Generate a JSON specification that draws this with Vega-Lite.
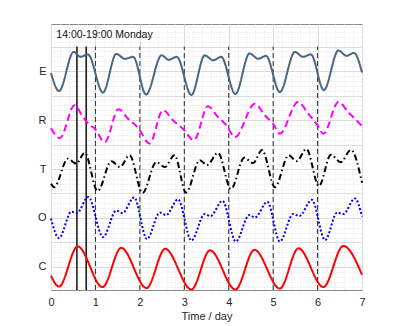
{
  "$schema": "https://vega.github.io/schema/vega-lite/v6.json",
  "width": 311,
  "height": 266,
  "autosize": {"type": "none"},
  "padding": {"left": 51, "top": 24, "right": 37, "bottom": 36},
  "background": "white",
  "config": {
    "view": {"stroke": "#8a8a8a", "strokeWidth": 1},
    "font": "Liberation Sans"
  },
  "datasets": {
    "curves": [
      {"s": "E", "t": 0.0, "v": 4.96}, {"s": "E", "t": 0.18, "v": 4.59}, {"s": "E", "t": 0.51, "v": 5.39}, {"s": "E", "t": 0.66, "v": 5.29}, {"s": "E", "t": 0.83, "v": 5.34},
      {"s": "E", "t": 1.17, "v": 4.56}, {"s": "E", "t": 1.47, "v": 5.35}, {"s": "E", "t": 1.66, "v": 5.25}, {"s": "E", "t": 1.85, "v": 5.29},
      {"s": "E", "t": 2.14, "v": 4.52}, {"s": "E", "t": 2.49, "v": 5.32}, {"s": "E", "t": 2.65, "v": 5.23}, {"s": "E", "t": 2.83, "v": 5.29},
      {"s": "E", "t": 3.16, "v": 4.51}, {"s": "E", "t": 3.46, "v": 5.32}, {"s": "E", "t": 3.65, "v": 5.22}, {"s": "E", "t": 3.83, "v": 5.29},
      {"s": "E", "t": 4.15, "v": 4.53}, {"s": "E", "t": 4.47, "v": 5.36}, {"s": "E", "t": 4.66, "v": 5.25}, {"s": "E", "t": 4.84, "v": 5.31},
      {"s": "E", "t": 5.15, "v": 4.57}, {"s": "E", "t": 5.49, "v": 5.39}, {"s": "E", "t": 5.67, "v": 5.29}, {"s": "E", "t": 5.85, "v": 5.34},
      {"s": "E", "t": 6.14, "v": 4.61}, {"s": "E", "t": 6.47, "v": 5.42}, {"s": "E", "t": 6.65, "v": 5.31}, {"s": "E", "t": 6.82, "v": 5.37},
      {"s": "E", "t": 7.0, "v": 4.97},

      {"s": "R", "t": 0.0, "v": 3.83}, {"s": "R", "t": 0.2, "v": 3.63}, {"s": "R", "t": 0.53, "v": 4.3}, {"s": "R", "t": 0.72, "v": 4.06}, {"s": "R", "t": 0.87, "v": 3.9}, {"s": "R", "t": 0.98, "v": 3.83},
      {"s": "R", "t": 1.21, "v": 3.55}, {"s": "R", "t": 1.52, "v": 4.22}, {"s": "R", "t": 1.73, "v": 4.03}, {"s": "R", "t": 1.96, "v": 3.84},
      {"s": "R", "t": 2.22, "v": 3.52}, {"s": "R", "t": 2.52, "v": 4.2}, {"s": "R", "t": 2.75, "v": 3.99}, {"s": "R", "t": 2.97, "v": 3.82},
      {"s": "R", "t": 3.22, "v": 3.59}, {"s": "R", "t": 3.53, "v": 4.28}, {"s": "R", "t": 3.76, "v": 4.06}, {"s": "R", "t": 3.95, "v": 3.89},
      {"s": "R", "t": 4.14, "v": 3.65}, {"s": "R", "t": 4.59, "v": 4.33}, {"s": "R", "t": 4.81, "v": 4.1}, {"s": "R", "t": 5.0, "v": 3.92},
      {"s": "R", "t": 5.15, "v": 3.72}, {"s": "R", "t": 5.56, "v": 4.37}, {"s": "R", "t": 5.79, "v": 4.13}, {"s": "R", "t": 5.98, "v": 3.92},
      {"s": "R", "t": 6.13, "v": 3.72}, {"s": "R", "t": 6.47, "v": 4.37}, {"s": "R", "t": 6.69, "v": 4.16}, {"s": "R", "t": 7.0, "v": 3.88},

      {"s": "T", "t": 0.0, "v": 2.7}, {"s": "T", "t": 0.07, "v": 2.63}, {"s": "T", "t": 0.38, "v": 3.21}, {"s": "T", "t": 0.57, "v": 3.11}, {"s": "T", "t": 0.76, "v": 3.33},
      {"s": "T", "t": 1.05, "v": 2.55}, {"s": "T", "t": 1.36, "v": 3.16}, {"s": "T", "t": 1.55, "v": 3.04}, {"s": "T", "t": 1.77, "v": 3.28},
      {"s": "T", "t": 2.06, "v": 2.51}, {"s": "T", "t": 2.37, "v": 3.14}, {"s": "T", "t": 2.56, "v": 3.04}, {"s": "T", "t": 2.78, "v": 3.28},
      {"s": "T", "t": 3.04, "v": 2.52}, {"s": "T", "t": 3.35, "v": 3.18}, {"s": "T", "t": 3.51, "v": 3.08}, {"s": "T", "t": 3.76, "v": 3.33},
      {"s": "T", "t": 4.05, "v": 2.59}, {"s": "T", "t": 4.35, "v": 3.23}, {"s": "T", "t": 4.55, "v": 3.12}, {"s": "T", "t": 4.75, "v": 3.39},
      {"s": "T", "t": 5.04, "v": 2.63}, {"s": "T", "t": 5.35, "v": 3.28}, {"s": "T", "t": 5.53, "v": 3.16}, {"s": "T", "t": 5.75, "v": 3.41},
      {"s": "T", "t": 6.03, "v": 2.65}, {"s": "T", "t": 6.3, "v": 3.29}, {"s": "T", "t": 6.52, "v": 3.14}, {"s": "T", "t": 6.75, "v": 3.39},
      {"s": "T", "t": 7.0, "v": 2.72},

      {"s": "O", "t": 0.0, "v": 1.99}, {"s": "O", "t": 0.18, "v": 1.59}, {"s": "O", "t": 0.46, "v": 2.13}, {"s": "O", "t": 0.58, "v": 2.1}, {"s": "O", "t": 0.84, "v": 2.43},
      {"s": "O", "t": 1.17, "v": 1.61}, {"s": "O", "t": 1.47, "v": 2.15}, {"s": "O", "t": 1.61, "v": 2.1}, {"s": "O", "t": 1.87, "v": 2.42},
      {"s": "O", "t": 2.16, "v": 1.57}, {"s": "O", "t": 2.45, "v": 2.11}, {"s": "O", "t": 2.59, "v": 2.06}, {"s": "O", "t": 2.86, "v": 2.38},
      {"s": "O", "t": 3.16, "v": 1.54}, {"s": "O", "t": 3.46, "v": 2.08}, {"s": "O", "t": 3.59, "v": 2.04}, {"s": "O", "t": 3.86, "v": 2.35},
      {"s": "O", "t": 4.16, "v": 1.52}, {"s": "O", "t": 4.46, "v": 2.06}, {"s": "O", "t": 4.59, "v": 2.01}, {"s": "O", "t": 4.87, "v": 2.33},
      {"s": "O", "t": 5.15, "v": 1.52}, {"s": "O", "t": 5.45, "v": 2.08}, {"s": "O", "t": 5.59, "v": 2.04}, {"s": "O", "t": 5.87, "v": 2.37},
      {"s": "O", "t": 6.17, "v": 1.55}, {"s": "O", "t": 6.44, "v": 2.11}, {"s": "O", "t": 6.58, "v": 2.08}, {"s": "O", "t": 6.84, "v": 2.4},
      {"s": "O", "t": 7.0, "v": 2.03},

      {"s": "C", "t": 0.0, "v": 0.82}, {"s": "C", "t": 0.18, "v": 0.6}, {"s": "C", "t": 0.6, "v": 1.42}, {"s": "C", "t": 1.16, "v": 0.59},
      {"s": "C", "t": 1.58, "v": 1.39}, {"s": "C", "t": 2.15, "v": 0.57}, {"s": "C", "t": 2.57, "v": 1.37}, {"s": "C", "t": 3.16, "v": 0.54},
      {"s": "C", "t": 3.58, "v": 1.34}, {"s": "C", "t": 4.15, "v": 0.54}, {"s": "C", "t": 4.58, "v": 1.35}, {"s": "C", "t": 5.15, "v": 0.56},
      {"s": "C", "t": 5.57, "v": 1.38}, {"s": "C", "t": 6.13, "v": 0.59}, {"s": "C", "t": 6.58, "v": 1.43}, {"s": "C", "t": 7.0, "v": 0.84}
    ],
    "dashed": [
      {"t": 1, "v": 0.53, "v2": 5.5}, {"t": 2, "v": 0.53, "v2": 5.5}, {"t": 3, "v": 0.53, "v2": 5.5},
      {"t": 4, "v": 0.53, "v2": 5.5}, {"t": 5, "v": 0.53, "v2": 5.5}, {"t": 6, "v": 0.53, "v2": 5.5}
    ],
    "solid": [
      {"t": 0.583, "v": 0.53, "v2": 5.5}, {"t": 0.792, "v": 0.53, "v2": 5.5}
    ],
    "label": [
      {"t": 0.12, "v": 5.745, "txt": "14:00-19:00 Monday"}
    ]
  },
  "encoding": {
    "x": {
      "field": "t", "type": "quantitative",
      "scale": {"domain": [0, 7], "nice": false, "zero": false},
      "axis": {
        "title": "Time / day",
        "values": [0,0.2,0.4,0.6,0.8,1,1.2,1.4,1.6,1.8,2,2.2,2.4,2.6,2.8,3,3.2,3.4,3.6,3.8,4,4.2,4.4,4.6,4.8,5,5.2,5.4,5.6,5.8,6,6.2,6.4,6.6,6.8,7],
        "labelExpr": "datum.value % 1 === 0 ? '' + datum.value : ''",
        "labelOverlap": false,
        "labelFlush": false,
        "ticks": false,
        "domain": false,
        "grid": true,
        "gridColor": {"condition": {"test": "datum.value % 1 === 0", "value": "#dcdcdc"}, "value": "#e4e4e4"},
        "gridDash": {"condition": {"test": "datum.value % 1 === 0", "value": []}, "value": [1, 2]},
        "gridWidth": 1,
        "labelFontSize": 11,
        "labelColor": "#262626",
        "labelPadding": 6,
        "titleFontSize": 11,
        "titleFontWeight": "normal",
        "titleColor": "#262626",
        "titlePadding": 3
      }
    },
    "y": {
      "field": "v", "type": "quantitative",
      "scale": {"domain": [0.53, 5.96], "nice": false, "zero": false},
      "axis": {
        "title": null,
        "values": [0.6,0.7,0.8,0.9,1,1.1,1.2,1.3,1.4,1.5,1.6,1.7,1.8,1.9,2,2.1,2.2,2.3,2.4,2.5,2.6,2.7,2.8,2.9,3,3.1,3.2,3.3,3.4,3.5,3.6,3.7,3.8,3.9,4,4.1,4.2,4.3,4.4,4.5,4.6,4.7,4.8,4.9,5,5.1,5.2,5.3,5.4,5.5,5.6,5.7,5.8,5.9],
        "labelExpr": "datum.value === 1 ? 'C' : datum.value === 2 ? 'O' : datum.value === 3 ? 'T' : datum.value === 4 ? 'R' : datum.value === 5 ? 'E' : ''",
        "labelOverlap": false,
        "labelFlush": false,
        "ticks": false,
        "domain": false,
        "grid": true,
        "gridColor": {"condition": {"test": "abs(datum.value * 2 - round(datum.value * 2)) < 0.000001", "value": "#dcdcdc"}, "value": "#e4e4e4"},
        "gridDash": {"condition": {"test": "abs(datum.value * 2 - round(datum.value * 2)) < 0.000001", "value": []}, "value": [1, 2]},
        "labelFontSize": 11,
        "labelColor": "#262626",
        "labelPadding": 5
      }
    }
  },
  "layer": [
    {
      "data": {"name": "dashed"},
      "mark": {"type": "rule", "color": "#2b2b2b", "strokeWidth": 1, "strokeDash": [5, 3]},
      "encoding": {"y2": {"field": "v2"}}
    },
    {
      "data": {"name": "solid"},
      "mark": {"type": "rule", "color": "#111111", "strokeWidth": 1.5},
      "encoding": {"y2": {"field": "v2"}}
    },
    {
      "data": {"name": "curves"},
      "mark": {"type": "line", "interpolate": "monotone", "strokeWidth": 2},
      "encoding": {
        "color": {
          "field": "s", "type": "nominal", "legend": null,
          "scale": {"domain": ["E", "R", "T", "O", "C"], "range": ["#4a6683", "#ff00ff", "#000000", "#0000ff", "#ff0000"]}
        },
        "strokeDash": {
          "field": "s", "type": "nominal", "legend": null,
          "scale": {"domain": ["E", "R", "T", "O", "C"], "range": [[1, 0], [7, 4], [6, 3, 1.5, 3], [2, 2], [1, 0]]}
        },
        "detail": {"field": "s"}
      }
    },
    {
      "data": {"name": "label"},
      "mark": {"type": "text", "align": "left", "baseline": "middle", "fontSize": 10.5, "color": "#111111"},
      "encoding": {"text": {"field": "txt"}}
    }
  ]
}
